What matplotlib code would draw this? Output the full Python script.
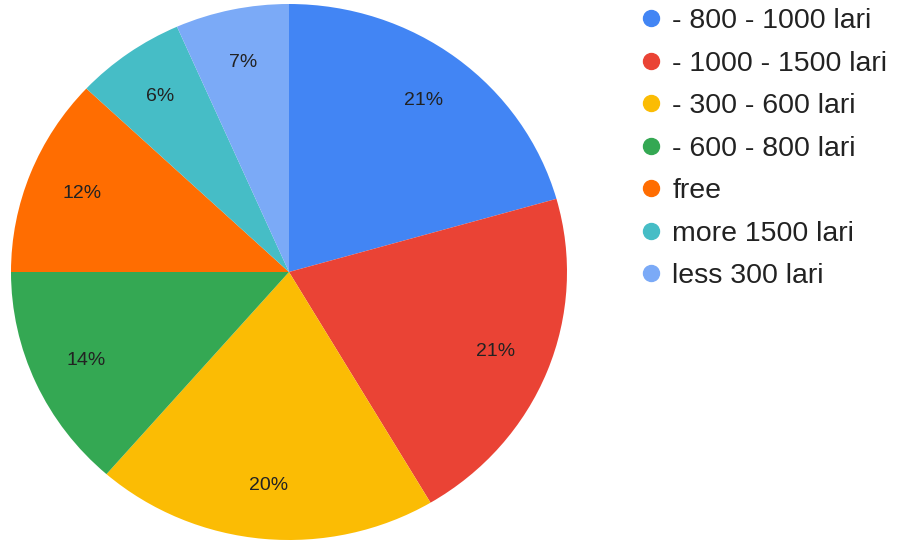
import matplotlib.pyplot as plt
from matplotlib.lines import Line2D

plt.rcParams['font.family'] = ['Liberation Sans', 'DejaVu Sans']

# datos (porcentajes)
categorias = ['- 800 - 1000 lari', '- 1000 - 1500 lari', '- 300 - 600 lari',
              '- 600 - 800 lari', 'free', 'more 1500 lari', 'less 300 lari']
valores = [20.6, 20.9, 19.9, 13.6, 12.0, 6.4, 6.6]
colores = ['#4285F4', '#EA4335', '#FBBC04', '#34A853', '#FF6D01', '#46BDC6', '#7BAAF7']

fig = plt.figure(figsize=(8.97, 5.42), dpi=100)
ax = fig.add_axes([11/897, 2/542, 556/897, 536/542])

wedges, textos, autotextos = ax.pie(valores, colors=colores, startangle=90,
                                    counterclock=False, autopct='%.0f%%',
                                    pctdistance=0.8,
                                    textprops={'fontsize': 14, 'color': '#222222'})
ax.set_aspect('auto')
ax.set_xlim(-1, 1)
ax.set_ylim(-1, 1)

# leyenda con circulos
handles = [Line2D([0], [0], marker='o', linestyle='', markersize=11.5,
                  markerfacecolor=c, markeredgecolor=c) for c in colores]
fig.legend(handles, categorias, loc='upper left', bbox_to_anchor=(640/897, 534/542),
           frameon=False, fontsize=20.5, handletextpad=0.34, labelspacing=0.58,
           borderaxespad=0, borderpad=0, handlelength=0.8, labelcolor='#222222')

fig.savefig('out.png', dpi=100)
